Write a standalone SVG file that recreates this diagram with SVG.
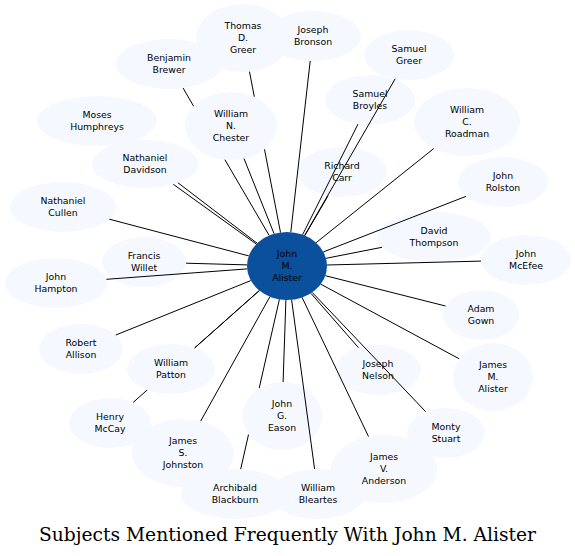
<svg xmlns="http://www.w3.org/2000/svg" width="575" height="556" viewBox="0 0 575 556">
<style>
.n ellipse{fill:#f5f9ff;stroke:none}
.c ellipse{fill:#0b509c;stroke:none}
text{font-family:"DejaVu Sans","Liberation Sans",sans-serif;font-size:9.33px;fill:#000;text-anchor:middle}
.title{font-family:"DejaVu Serif","Liberation Serif",serif;font-size:18.67px}
#edges line{stroke:#000;stroke-width:1;fill:none}
</style>
<rect width="575" height="556" fill="#fff"/>
<g id="nodes">
<g id="thomas_d_greer" class="n"><ellipse cx="243" cy="38" rx="47" ry="34"/><text x="243" y="28.5">Thomas</text><text x="243" y="40.5">D.</text><text x="243" y="52.5">Greer</text></g>
<g id="joseph_bronson" class="n"><ellipse cx="313" cy="36" rx="48" ry="25"/><text x="313" y="32.5">Joseph</text><text x="313" y="44.5">Bronson</text></g>
<g id="benjamin_brewer" class="n"><ellipse cx="169" cy="64" rx="53" ry="25"/><text x="169" y="60.5">Benjamin</text><text x="169" y="72.5">Brewer</text></g>
<g id="samuel_greer" class="n"><ellipse cx="409" cy="55" rx="45" ry="25"/><text x="409" y="51.5">Samuel</text><text x="409" y="63.5">Greer</text></g>
<g id="samuel_broyles" class="n"><ellipse cx="370" cy="100" rx="45" ry="25"/><text x="370" y="96.5">Samuel</text><text x="370" y="108.5">Broyles</text></g>
<g id="william_c_roadman" class="n"><ellipse cx="467" cy="122" rx="53" ry="34"/><text x="467" y="112.5">William</text><text x="467" y="124.5">C.</text><text x="467" y="136.5">Roadman</text></g>
<g id="moses_humphreys" class="n"><ellipse cx="97" cy="121" rx="60" ry="25"/><text x="97" y="117.5">Moses</text><text x="97" y="129.5">Humphreys</text></g>
<g id="william_n_chester" class="n"><ellipse cx="231" cy="126" rx="46" ry="34"/><text x="231" y="116.5">William</text><text x="231" y="128.5">N.</text><text x="231" y="140.5">Chester</text></g>
<g id="nathaniel_davidson" class="n"><ellipse cx="145" cy="164" rx="53" ry="24"/><text x="145" y="160.5">Nathaniel</text><text x="145" y="172.5">Davidson</text></g>
<g id="richard_carr" class="n"><ellipse cx="342" cy="172" rx="45" ry="25"/><text x="342" y="168.5">Richard</text><text x="342" y="180.5">Carr</text></g>
<g id="john_rolston" class="n"><ellipse cx="503" cy="182" rx="45" ry="25"/><text x="503" y="178.5">John</text><text x="503" y="190.5">Rolston</text></g>
<g id="nathaniel_cullen" class="n"><ellipse cx="63" cy="207" rx="53" ry="25"/><text x="63" y="203.5">Nathaniel</text><text x="63" y="215.5">Cullen</text></g>
<g id="david_thompson" class="n"><ellipse cx="434" cy="237" rx="57" ry="25"/><text x="434" y="233.5">David</text><text x="434" y="245.5">Thompson</text></g>
<g id="francis_willet" class="n"><ellipse cx="144" cy="262" rx="42" ry="25"/><text x="144" y="258.5">Francis</text><text x="144" y="270.5">Willet</text></g>
<g id="john_hampton" class="n"><ellipse cx="56" cy="283" rx="51" ry="25"/><text x="56" y="279.5">John</text><text x="56" y="291.5">Hampton</text></g>
<g id="john_mcefee" class="n"><ellipse cx="526" cy="260" rx="45" ry="25"/><text x="526" y="256.5">John</text><text x="526" y="268.5">McEfee</text></g>
<g id="adam_gown" class="n"><ellipse cx="481" cy="315" rx="38" ry="25"/><text x="481" y="311.5">Adam</text><text x="481" y="323.5">Gown</text></g>
<g id="robert_allison" class="n"><ellipse cx="81" cy="349" rx="42" ry="25"/><text x="81" y="345.5">Robert</text><text x="81" y="357.5">Allison</text></g>
<g id="william_patton" class="n"><ellipse cx="171" cy="369" rx="44" ry="25"/><text x="171" y="365.5">William</text><text x="171" y="377.5">Patton</text></g>
<g id="joseph_nelson" class="n"><ellipse cx="378" cy="370" rx="43" ry="25"/><text x="378" y="366.5">Joseph</text><text x="378" y="378.5">Nelson</text></g>
<g id="james_m_alister" class="n"><ellipse cx="493" cy="377" rx="40" ry="34"/><text x="493" y="367.5">James</text><text x="493" y="379.5">M.</text><text x="493" y="391.5">Alister</text></g>
<g id="henry_mccay" class="n"><ellipse cx="110" cy="423" rx="41" ry="25"/><text x="110" y="419.5">Henry</text><text x="110" y="431.5">McCay</text></g>
<g id="john_g_eason" class="n"><ellipse cx="282" cy="416" rx="40" ry="34"/><text x="282" y="406.5">John</text><text x="282" y="418.5">G.</text><text x="282" y="430.5">Eason</text></g>
<g id="monty_stuart" class="n"><ellipse cx="446" cy="433" rx="39" ry="25"/><text x="446" y="429.5">Monty</text><text x="446" y="441.5">Stuart</text></g>
<g id="james_s_johnston" class="n"><ellipse cx="183" cy="453" rx="51" ry="34"/><text x="183" y="443.5">James</text><text x="183" y="455.5">S.</text><text x="183" y="467.5">Johnston</text></g>
<g id="james_v_anderson" class="n"><ellipse cx="384" cy="469" rx="53" ry="34"/><text x="384" y="459.5">James</text><text x="384" y="471.5">V.</text><text x="384" y="483.5">Anderson</text></g>
<g id="archibald_blackburn" class="n"><ellipse cx="235" cy="494" rx="54" ry="25"/><text x="235" y="490.5">Archibald</text><text x="235" y="502.5">Blackburn</text></g>
<g id="william_bleartes" class="n"><ellipse cx="318" cy="494" rx="47" ry="25"/><text x="318" y="490.5">William</text><text x="318" y="502.5">Bleartes</text></g>
<g id="john_m_alister" class="c"><ellipse cx="287" cy="266" rx="40" ry="34"/><text x="287" y="256.5">John</text><text x="287" y="268.5">M.</text><text x="287" y="280.5">Alister</text></g>
</g>
<g id="edges">
<line x1="280.5" y1="232.5" x2="264.5" y2="149.3"/><line x1="254.3" y1="96.7" x2="249.5" y2="71.7"/>
<line x1="269.2" y1="235.5" x2="224.9" y2="159.7"/><line x1="193.6" y1="106.2" x2="183.1" y2="88.1"/>
<line x1="274.1" y1="233.8" x2="244.0" y2="158.6"/>
<line x1="290.8" y1="232.2" x2="310.2" y2="61.0"/>
<line x1="304.6" y1="235.5" x2="395.2" y2="78.8"/>
<line x1="302.6" y1="234.7" x2="358.0" y2="124.1"/>
<line x1="316.1" y1="242.7" x2="433.8" y2="148.5"/>
<line x1="257.2" y1="243.3" x2="178.0" y2="182.8"/>
<line x1="256.4" y1="244.1" x2="173.3" y2="184.3"/>
<line x1="304.8" y1="235.6" x2="328.1" y2="195.8"/>
<line x1="323.4" y1="251.9" x2="466.1" y2="196.3"/>
<line x1="248.8" y1="255.9" x2="109.3" y2="219.2"/>
<line x1="326.0" y1="258.3" x2="382.0" y2="247.3"/>
<line x1="247.0" y1="264.9" x2="186.0" y2="263.2"/>
<line x1="247.2" y1="268.9" x2="106.4" y2="279.3"/>
<line x1="327.0" y1="265.0" x2="481.0" y2="261.1"/>
<line x1="325.3" y1="275.7" x2="445.5" y2="306.0"/>
<line x1="250.8" y1="280.6" x2="115.8" y2="335.0"/>
<line x1="259.3" y1="290.6" x2="194.7" y2="347.9"/>
<line x1="259.3" y1="290.6" x2="194.7" y2="347.9"/><line x1="147.2" y1="390.0" x2="133.2" y2="402.4"/>
<line x1="310.9" y1="293.3" x2="358.5" y2="347.7"/>
<line x1="312.2" y1="292.4" x2="425.7" y2="411.7"/>
<line x1="320.8" y1="284.2" x2="459.2" y2="358.8"/>
<line x1="285.9" y1="300.0" x2="283.1" y2="382.0"/>
<line x1="269.9" y1="296.7" x2="200.7" y2="421.1"/>
<line x1="302.1" y1="297.5" x2="368.5" y2="436.5"/>
<line x1="279.4" y1="299.4" x2="259.2" y2="388.1"/><line x1="248.5" y1="434.6" x2="240.7" y2="469.1"/>
<line x1="291.6" y1="299.8" x2="314.6" y2="469.1"/>
</g>
<text class="title" x="287.5" y="541">Subjects Mentioned Frequently With John M. Alister</text>
</svg>
